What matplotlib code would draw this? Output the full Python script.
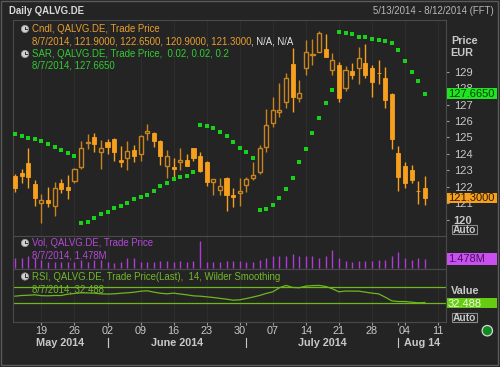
import matplotlib
matplotlib.use('Agg')
import matplotlib.pyplot as plt
import numpy as np
import pandas as pd
from matplotlib.patches import Rectangle, Circle

# ---------------- data ----------------
dates = pd.bdate_range('2014-05-13', '2014-08-07')

opens = [122.65, 122.85, 123.42, 122.18, 120.99, 121.17, 120.83, 122.24, 122.00, 122.37,
         123.18, 124.68, 125.01, 124.09, 124.70, 124.90, 123.62, 123.73, 124.23, 123.97,
         125.25, 125.25, 124.78, 123.28, 123.22, 123.50, 123.62, 124.34, 123.89, 123.52,
         122.30, 121.80, 122.55, 121.49, 121.62, 122.10, 122.51, 122.91, 124.43, 125.90,
         126.56, 127.17, 129.45, 127.42, 129.24, 130.03, 130.22, 130.38, 129.10, 129.41,
         128.03, 129.04, 129.21, 129.51, 129.24, 128.92, 128.63, 127.64, 124.07, 123.26,
         123.02, 121.76, 121.90]
highs = [122.75, 123.06, 124.37, 122.41, 121.56, 122.00, 122.30, 122.47, 122.71, 123.12,
         124.78, 125.21, 125.25, 124.84, 124.90, 124.95, 124.48, 124.78, 124.54, 125.15,
         125.80, 125.31, 124.84, 124.23, 123.73, 124.34, 123.97, 124.37, 124.09, 123.56,
         122.50, 122.51, 122.61, 121.94, 122.51, 122.61, 123.52, 124.54, 126.73, 127.48,
         128.29, 128.90, 130.46, 128.49, 130.93, 130.99, 131.48, 131.27, 130.12, 129.61,
         129.36, 129.51, 130.52, 130.68, 129.41, 129.71, 129.30, 127.68, 124.50, 123.52,
         123.32, 122.37, 122.65]
lows = [121.70, 122.21, 121.94, 120.84, 119.77, 120.78, 120.23, 121.63, 121.25, 122.21,
        123.08, 124.28, 124.13, 123.08, 123.97, 123.58, 123.22, 123.02, 123.52, 123.56,
        124.84, 124.43, 123.32, 122.55, 122.61, 123.02, 123.26, 123.56, 122.91, 122.06,
        121.49, 121.49, 120.54, 120.78, 120.84, 121.70, 122.41, 122.75, 124.09, 125.65,
        126.26, 126.81, 126.56, 127.14, 128.80, 129.41, 130.20, 129.89, 128.80, 127.17,
        127.82, 128.55, 128.23, 128.60, 127.48, 128.23, 126.81, 124.29, 121.74, 121.90,
        122.21, 120.93, 120.90]
closes = [121.90, 122.65, 122.57, 121.29, 121.17, 120.99, 121.94, 121.84, 121.78, 123.08,
          124.34, 124.72, 124.58, 124.37, 124.43, 124.09, 123.49, 124.17, 123.87, 125.09,
          125.41, 124.78, 123.87, 123.87, 123.06, 123.61, 123.28, 123.77, 122.97, 122.30,
          122.45, 122.04, 121.49, 121.35, 121.71, 122.47, 122.71, 124.34, 125.76, 126.67,
          126.67, 128.60, 127.48, 127.68, 130.18, 130.09, 131.34, 129.91, 129.71, 127.38,
          129.10, 128.80, 129.81, 128.80, 128.39, 128.90, 127.28, 124.88, 122.61, 122.24,
          122.41, 121.74, 121.30]
sar = [125.19, 125.07, 124.98, 124.90, 124.80, 124.58, 124.42, 124.22, 124.03, 123.89,
       119.77, 119.87, 120.08, 120.32, 120.48, 120.69, 120.84, 120.99, 121.23, 121.39,
       121.49, 121.76, 122.04, 122.24, 122.45, 122.61, 122.67, 122.88, 125.76, 125.69,
       125.55, 125.35, 125.09, 124.74, 124.37, 124.09, 123.76, 120.58, 120.64, 120.89,
       121.29, 121.86, 122.55, 123.52, 124.29, 125.29, 126.20, 127.08, 127.89, 131.43,
       131.37, 131.27, 131.13, 131.09, 131.01, 130.95, 130.89, 130.73, 130.30, 129.67,
       129.00, 128.43, 127.665]
volume_m = [1.58, 1.58, 1.95, 1.58, 1.32, 0.95, 0.95, 0.95, 0.95, 0.95,
            1.32, 0.95, 1.32, 1.32, 0.95, 0.79, 0.95, 1.58, 1.58, 0.95,
            0.95, 0.95, 1.16, 1.16, 0.95, 1.16, 0.95, 1.16, 4.33, 0.95,
            0.95, 0.95, 1.16, 1.16, 1.16, 0.95, 0.95, 1.32, 1.58, 1.95,
            1.95, 1.95, 2.27, 1.95, 1.95, 1.95, 1.58, 1.95, 2.90, 1.58,
            1.21, 0.95, 1.16, 1.16, 1.16, 1.32, 1.32, 1.95, 2.53, 1.58,
            1.32, 1.58, 1.478]
rsi = [48.2, 49.9, 50.5, 51.6, 49.5, 49.1, 49.9, 49.9, 53.2, 55.0,
       56.6, 56.2, 55.8, 54.1, 53.5, 54.1, 55.5, 56.6, 58.0, 60.5,
       61.6, 58.25, 55.5, 54.1, 55.8, 53.5, 51.6, 49.0, 48.2, 46.6,
       44.9, 42.8, 40.75, 38.25, 39.1, 42.4, 46.0, 49.9, 55.0, 59.1,
       69.1, 74.9, 69.9, 69.1, 73.25, 74.5, 74.9, 72.4, 66.6, 59.1,
       61.0, 60.75, 60.75, 58.25, 55.8, 54.0, 45.75, 36.6, 34.9, 34.9,
       33.25, 31.6, 32.488]
price_ticks = [120, 121, 122, 123, 124, 125, 126, 127, 128, 129]
month_labels = ['May 2014', 'June 2014', 'July 2014', 'Aug 14']

# ---------------- styling ----------------
BG = '#242424'
FRAME = '#4a4a4a'
GRID = '#2d2d2d'
ORANGE = '#f7a01e'
ORANGE_UP = '#c8841e'
SAR_C = '#19d119'
VOL_C = '#b03ad8'
RSI_C = '#6db81c'
TXT = '#c8c8c8'
plt.rcParams['font.family'] = ['Liberation Sans', 'DejaVu Sans']

W, H = 500, 367
fig = plt.figure(figsize=(W / 100, H / 100), dpi=100, facecolor=BG)

def fx(x):
    return x / W

def fy(y):
    return 1 - y / H

L, R = 13, 446
def add_panel(top, bot):
    ax = fig.add_axes([fx(L), fy(bot), fx(R) - fx(L), fy(top) - fy(bot)])
    ax.set_facecolor(BG)
    for s in ax.spines.values():
        s.set_color(FRAME)
        s.set_linewidth(0.8)
    return ax

ax_p = add_panel(19.5, 236)
ax_v = add_panel(236, 269)
ax_r = add_panel(269, 322)

n = len(opens)
idx = np.arange(n)
xlim = (-0.3, 65.2)

# weekly ticks (Mondays) and month starts
mondays = [i for i, d in enumerate(dates) if d.weekday() == 0]
mon_labels = [dates[i].strftime('%d') for i in mondays]
mondays.append(len(dates) + 1)        # Aug 11 (after last data day)
mon_labels.append('11')
month_start = [i for i in range(1, n) if dates[i].month != dates[i - 1].month]

for ax in (ax_p, ax_v, ax_r):
    ax.set_xlim(*xlim)
    for m in mondays:
        ax.axvline(m, color=GRID, lw=0.8, zorder=0)
    ax.tick_params(left=False, labelleft=False, bottom=False, labelbottom=False,
                   right=False, labelright=False)

# ---------------- candles ----------------
o = np.array(opens); c = np.array(closes); h = np.array(highs); l = np.array(lows)
up = c >= o
body_lo = np.minimum(o, c)
body_h = np.maximum(np.abs(c - o), 0.02)
ax_p.vlines(idx[up], l[up], h[up], color=ORANGE_UP, lw=1.0, zorder=2)
ax_p.vlines(idx[~up], l[~up], h[~up], color=ORANGE, lw=1.0, zorder=2)
ax_p.bar(idx[up], body_h[up], bottom=body_lo[up], width=0.62, facecolor=BG,
         edgecolor=ORANGE_UP, linewidth=1.0, zorder=3)
ax_p.bar(idx[~up], body_h[~up], bottom=body_lo[~up], width=0.62, facecolor=ORANGE,
         edgecolor=ORANGE, linewidth=0.6, zorder=3)
ax_p.scatter(idx, sar, marker='s', s=5, color=SAR_C, linewidths=0, zorder=4)
ax_p.set_ylim(119.0, 132.18)
ax_p.yaxis.tick_right()
ax_p.set_yticks(price_ticks)
ax_p.set_yticklabels([str(t) for t in price_ticks])
ax_p.tick_params(axis='y', right=True, labelright=True, length=2.5, width=0.8,
                 color='#9a9a9a', labelcolor=TXT, labelsize=8, pad=3)
for lab in ax_p.get_yticklabels():
    if lab.get_text() == '120':
        lab.set_fontweight('bold')

# ---------------- volume ----------------
ax_v.vlines(idx, 0, volume_m, color=VOL_C, lw=1.0, zorder=2)
ax_v.set_ylim(-0.11, 5.12)

# ---------------- RSI ----------------
ax_r.plot(idx, rsi, color=RSI_C, lw=0.9, zorder=3)
ax_r.axhline(70, color=RSI_C, lw=0.9, zorder=2)
ax_r.axhline(30, color=RSI_C, lw=0.9, zorder=2)
ax_r.set_ylim(-16, 115.75)
ax_r.set_xticks(mondays + month_start)
ax_r.tick_params(axis='x', bottom=True, length=2, width=0.8, color='#9a9a9a')

# ---------------- overlay (pixel coordinates) ----------------
ov = fig.add_axes([0, 0, 1, 1], facecolor='none')
ov.set_xlim(0, W); ov.set_ylim(H, 0); ov.axis('off')

def px_of_idx(i):
    return L + (i - xlim[0]) / (xlim[1] - xlim[0]) * (R - L)

# header
ov.text(9, 11, 'Daily QALVG.DE', color='#d8d8d8', fontsize=6.9, fontweight='bold', va='center')
ov.text(494, 11, '5/13/2014 - 8/12/2014 (FFT)', color='#b8b8b8', fontsize=6.9, va='center', ha='right')

def clock(x, y):
    ov.add_patch(Circle((x, y), 3.6, facecolor='#d0d0d0', edgecolor='#9a9a9a', lw=0.6, zorder=5))
    ov.plot([x, x], [y, y - 2.4], color='#333333', lw=0.7, zorder=6)
    ov.plot([x, x + 1.8], [y, y], color='#333333', lw=0.7, zorder=6)

fs = 6.9
clock(25, 29)
ov.text(31.5, 29, 'Cndl, QALVG.DE, Trade Price', color='#e8a030', fontsize=fs, va='center')
t1 = ov.text(31.5, 41.5, '8/7/2014, 121.9000, 122.6500, 120.9000, 121.3000', color='#e8a030',
             fontsize=fs, va='center')
fig.canvas.draw()
bb = t1.get_window_extent()
ov.text(bb.x1, 41.5, ', N/A, N/A', color='#e6e6e6', fontsize=fs, va='center')
clock(25, 54)
ov.text(31.5, 54, 'SAR, QALVG.DE, Trade Price,  0.02, 0.02, 0.2', color='#33cc33', fontsize=fs, va='center')
ov.text(31.5, 66, '8/7/2014, 127.6650', color='#33cc33', fontsize=fs, va='center')

clock(25, 243)
ov.text(31.5, 243.5, 'Vol, QALVG.DE, Trade Price', color='#b548d8', fontsize=fs, va='center')
ov.text(31.5, 256, '8/7/2014, 1.478M', color='#b548d8', fontsize=fs, va='center')

clock(25, 276.5)
ov.text(31.5, 276.7, 'RSI, QALVG.DE, Trade Price(Last),  14, Wilder Smoothing', color='#72b82a',
        fontsize=fs, va='center')
ov.text(31.5, 289.3, '8/7/2014, 32.488', color='#72b82a', fontsize=fs, va='center')

# right axis labels and value boxes
ov.text(451, 40.5, 'Price', color=TXT, fontsize=7.8, fontweight='bold', va='center')
ov.text(450, 53.5, 'EUR', color=TXT, fontsize=7.8, fontweight='bold', va='center')
ov.text(451, 291, 'Value', color=TXT, fontsize=7.8, fontweight='bold', va='center')

def value_box(y0, y1, face, text, tcolor):
    ov.add_patch(Rectangle((447, y0), 50, y1 - y0, facecolor=face, edgecolor='none', zorder=5))
    ov.text(448, (y0 + y1) / 2 + 0.3, text, color=tcolor, fontsize=8, va='center', zorder=6)

value_box(87.8, 99, '#1ee61e', f'{sar[-1]:.4f}', '#0a3a0a')
value_box(193, 203, '#f7a01e', f'{closes[-1]:.4f}', '#2a1800')
value_box(253.3, 265, '#c94ff0', f'{volume_m[-1]:.3f}M', '#4a1060')
value_box(298.3, 308.3, '#66cc11', f'{rsi[-1]:.3f}', '#f4f4f4')

def auto_box(y0, y1):
    ov.add_patch(Rectangle((451.7, y0), 25.5, y1 - y0, facecolor='none', edgecolor='#8a8a8a', lw=0.8, zorder=5))
    ov.text(464.5, (y0 + y1) / 2 + 0.3, 'Auto', color=TXT, fontsize=7.4, fontweight='bold',
            ha='center', va='center', zorder=6)

auto_box(225, 234)
auto_box(312.7, 322)

# x tick labels
for m, lab in zip(mondays, mon_labels):
    ov.text(px_of_idx(m), 331, lab, color=TXT, fontsize=7.8, ha='center', va='center')
bounds = [xlim[0]] + month_start + [xlim[1]]
for k, lab in enumerate(month_labels):
    mid = (bounds[k] + bounds[k + 1]) / 2
    ov.text(px_of_idx(mid), 342.5, lab, color=TXT, fontsize=7.8, fontweight='bold', ha='center', va='center')
for ms in month_start:
    ov.plot([px_of_idx(ms), px_of_idx(ms)], [338, 347], color=TXT, lw=0.8)
ov.plot([px_of_idx(14), px_of_idx(14)], [338, 347], color=TXT, lw=0.8)

# status circle
ov.add_patch(Circle((487.3, 330.7), 5.2, facecolor='#118a22', edgecolor='#d8d8d8', lw=0.9, zorder=5))

# outer border
ov.add_patch(Rectangle((1, 1), 497, 364, facecolor='none', edgecolor='#5a5a5a', lw=1.0))

fig.savefig('out.png', dpi=100, facecolor=BG)
